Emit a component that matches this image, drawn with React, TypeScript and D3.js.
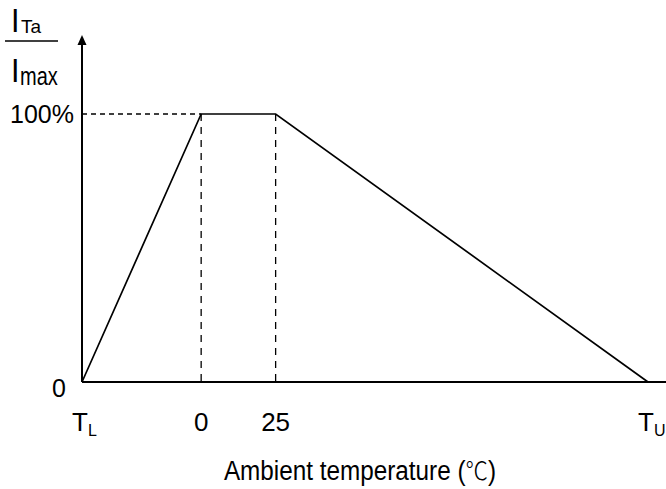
import React from "react";
import * as d3 from "d3";

const curveT = [-40, 0, 25, 150];
const curveI = [0, 100, 100, 0];
const tickValues = [-40, 0, 25, 150];
const tickMain = ["T", "0", "25", "T"];
const tickSub = ["L", "", "", "U"];
const yTickValues = [0, 100];
const yTickLabels = ["0", "100%"];
const guideT = [0, 25];

export default function App() {
  const W = 666, H = 489;
  const x = d3.scaleLinear().domain([-40, 150]).range([82, 648]);
  const y = d3.scaleLinear().domain([0, 100]).range([382, 114]);
  const pts = curveT.map((t, i) => [x(t), y(curveI[i])] as [number, number]);
  const line = d3.line()(pts) || "";
  const font = "'Liberation Sans', Arial, sans-serif";
  const x0 = x(-40);
  return (
    <svg width={W} height={H} style={{ position: "absolute", left: 0, top: 0, background: "#fff" }} fontFamily={font}>
      <rect width={W} height={H} fill="#fff" />
      {/* dashed guides */}
      <line x1={x0} x2={x(0)} y1={y(100)} y2={y(100)} stroke="#000" strokeWidth={1.3} strokeDasharray="5,4" />
      {guideT.map((t) => (
        <line key={t} x1={x(t)} x2={x(t)} y1={y(100)} y2={y(0)} stroke="#000" strokeWidth={1.3} strokeDasharray="7,6" />
      ))}
      {/* axes */}
      <line x1={x0} x2={W} y1={y(0)} y2={y(0)} stroke="#000" strokeWidth={2.2} />
      <line x1={x0} x2={x0} y1={y(0)} y2={42} stroke="#000" strokeWidth={2} />
      <path d={`M${x0},35 L${x0 - 4.5},45 L${x0 + 4.5},45 Z`} fill="#000" />
      {/* curve */}
      <path d={line} fill="none" stroke="#000" strokeWidth={1.7} />
      {/* y ticks */}
      {yTickValues.map((v, i) => (
        <text key={v} x={v === 0 ? 66 : 74} y={y(v) + (v === 0 ? 15 : 9)} textAnchor="end" fontSize={25}>{yTickLabels[i]}</text>
      ))}
      {/* x ticks */}
      {tickValues.map((v, i) =>
        tickSub[i] ? (
          <text key={v} x={x(v) - 10} y={431} fontSize={26}>
            {tickMain[i]}
            <tspan fontSize={16} dy={5}>{tickSub[i]}</tspan>
          </text>
        ) : (
          <text key={v} x={x(v)} y={431} textAnchor="middle" fontSize={26}>{tickMain[i]}</text>
        )
      )}
      <g transform="translate(360,480) scale(0.9,1)">
        <text x={0} y={0} textAnchor="middle" fontSize={27}>
          Ambient temperature (<tspan fontFamily="'Noto Sans CJK SC', sans-serif" fontWeight={300} fontSize={25}>℃</tspan>)
        </text>
      </g>
      {/* y label fraction */}
      <g transform="translate(11,32) scale(0.9,1)">
        <text fontSize={34}>I</text>
      </g>
      <text x={21} y={33} fontSize={19}>Ta</text>
      <line x1={5} x2={58} y1={41} y2={41} stroke="#000" strokeWidth={1.5} />
      <g transform="translate(11,82) scale(0.9,1)">
        <text fontSize={34}>I</text>
      </g>
      <g transform="translate(20,85) scale(0.8,1)">
        <text fontSize={25}>max</text>
      </g>
    </svg>
  );
}
